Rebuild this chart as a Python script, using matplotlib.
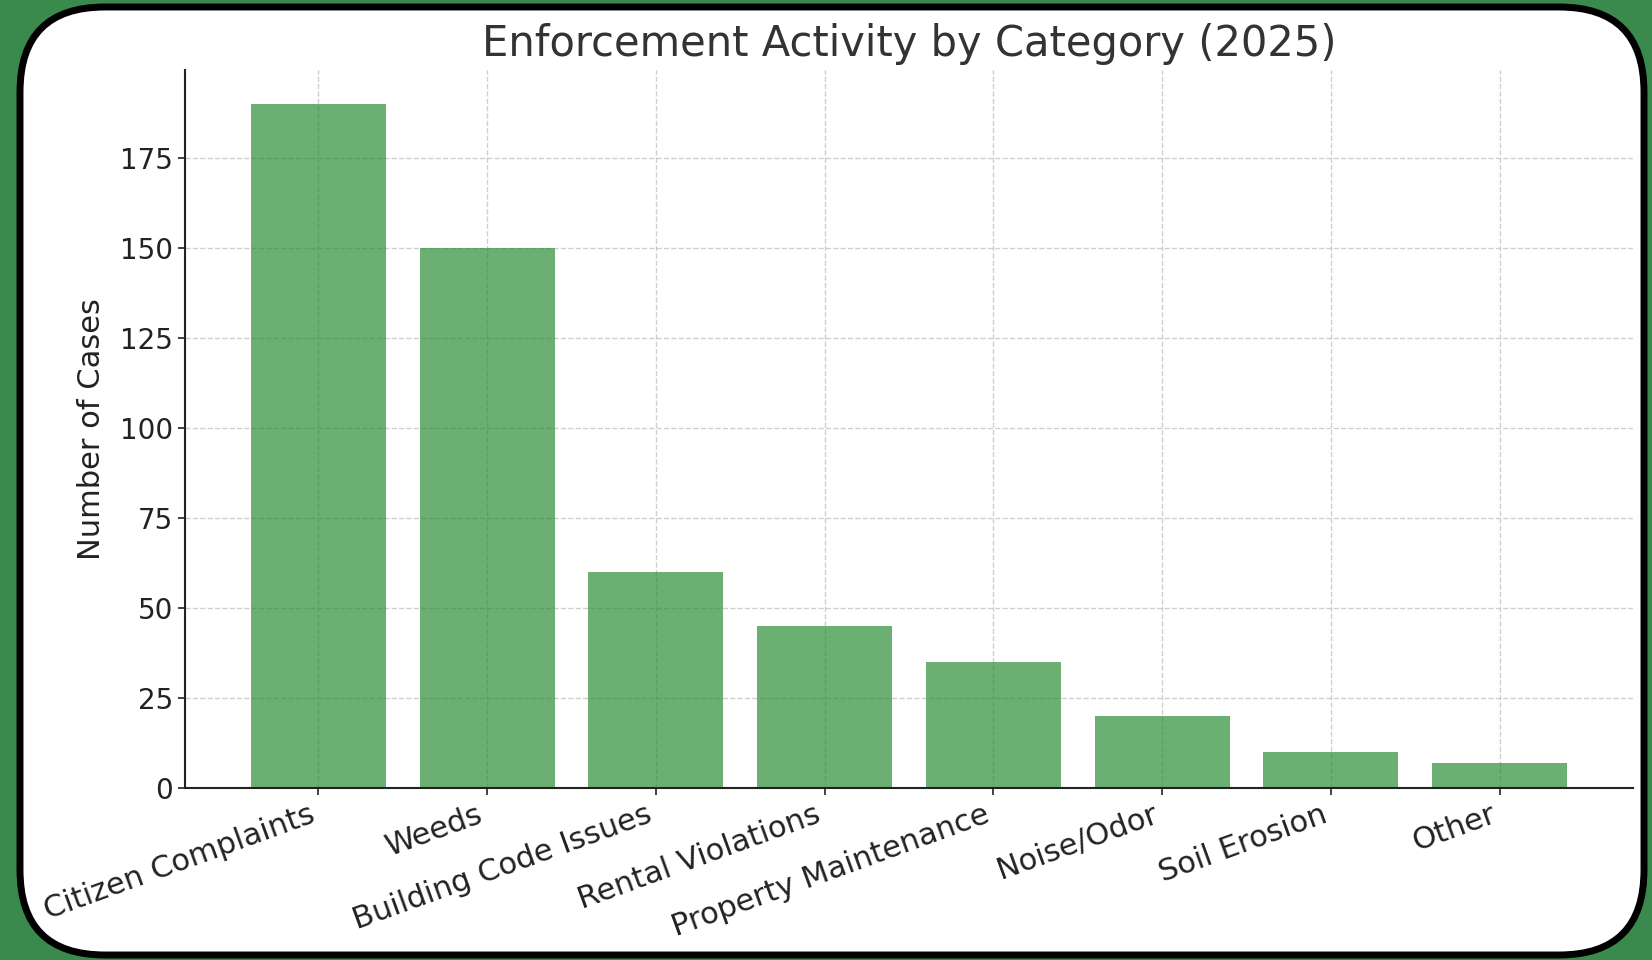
import matplotlib.pyplot as plt
from matplotlib.patches import FancyBboxPatch

# Datos do gráfico
categories = ["Citizen Complaints", "Weeds", "Building Code Issues", "Rental Violations",
              "Property Maintenance", "Noise/Odor", "Soil Erosion", "Other"]
cases = [190, 150, 60, 45, 35, 20, 10, 7]

fig = plt.figure(figsize=(16.52, 9.6), dpi=100)
fig.patch.set_facecolor("#3a8a4e")

# moldura arredondada, num eixo de fundo em pixels
bg = fig.add_axes([0, 0, 1, 1], zorder=-1)
bg.set_xlim(0, 1652)
bg.set_ylim(0, 960)
bg.axis("off")
bg.add_patch(FancyBboxPatch((20, 5), 1624, 948,
                            boxstyle="round,pad=0,rounding_size=85",
                            facecolor="white", edgecolor="black", linewidth=5))

ax = fig.add_axes([0.112, 0.179, 0.8765, 0.7486])
ax.set_facecolor("none")
ax.bar(categories, cases, color="#2d8d36", alpha=0.7, width=0.8, zorder=2)

ax.set_title("Enforcement Activity by Category (2025)", fontsize=30, color="#333333", pad=10)
ax.set_ylabel("Number of Cases", fontsize=22, color="#222222", labelpad=10)
ax.grid(True, linestyle="--", color="#bbbbbb", alpha=0.7, linewidth=1, zorder=0)
ax.set_axisbelow(True)

for side in ["top", "right"]:
    ax.spines[side].set_visible(False)
for side in ["left", "bottom"]:
    ax.spines[side].set_color("#222222")
    ax.spines[side].set_linewidth(1.5)

ax.tick_params(axis="both", length=5, width=1.2, colors="#222222")
ax.tick_params(axis="y", labelsize=20)
ax.tick_params(axis="x", labelsize=22)
plt.setp(ax.get_xticklabels(), rotation=20, ha="right")

fig.savefig("out.png", dpi=100, facecolor=fig.get_facecolor())
